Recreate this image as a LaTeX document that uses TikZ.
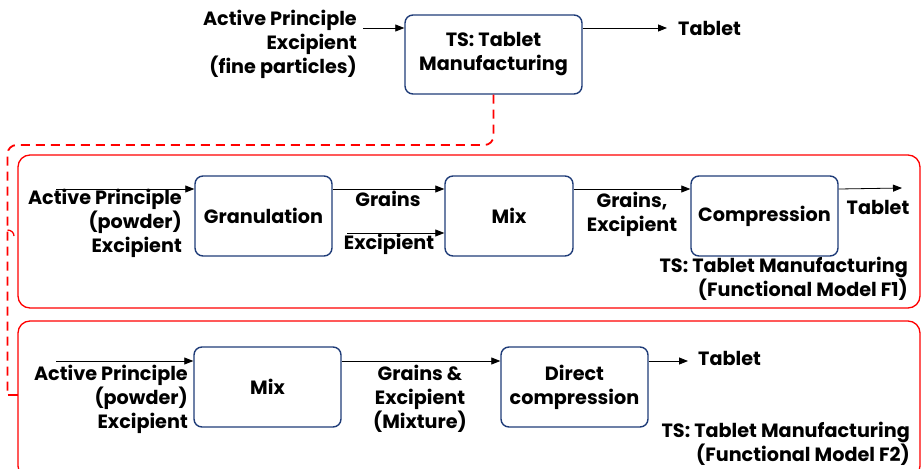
\documentclass[tikz,border=0pt]{standalone}
\usepackage{fontspec}
\setmainfont{Poppins}
\usetikzlibrary{arrows.meta}
\definecolor{navy}{HTML}{1F3C78}
\definecolor{rd}{HTML}{FF0000}
\tikzset{
  proc/.style={draw=navy, line width=1.4pt, rounded corners=8pt, inner sep=0pt, align=center, font=\fontsize{19.2}{24}\selectfont\bfseries},
  arr/.style={-{Triangle[length=9pt,width=7pt]}, line width=0.8pt, black},
  lbl/.style={inner sep=0pt, font=\fontsize{19.2}{24}\selectfont\bfseries},
  frame/.style={draw=rd, line width=1.3pt, rounded corners=12pt},
  brace/.style={draw=rd, line width=1.8pt, dash pattern=on 9pt off 6pt, rounded corners=9pt},
}
\begin{document}
\begin{tikzpicture}[x=1pt,y=-1pt]
\useasboundingbox (0,0) rectangle (922,469);
\clip (0,0) rectangle (922,469);
% frames
\draw[frame] (18,155) rectangle (920,308);
\draw[frame] (18,321) rectangle (920,478);
% boxes
\node[proc, minimum width=177pt, minimum height=79pt] (top) at (493.5,54.5) {TS: Tablet\\Manufacturing};
\node[proc, minimum width=137pt, minimum height=80pt] (gran) at (263.5,216) {Granulation};
\node[proc, minimum width=128pt, minimum height=80pt] (mixa) at (509,216) {Mix};
\node[proc, minimum width=147pt, minimum height=80pt] (comp) at (764.5,216) {Compression};
\node[proc, minimum width=147pt, minimum height=80pt] (mixb) at (267.5,387) {Mix};
\node[proc, minimum width=147pt, minimum height=80pt] (dc) at (574.5,387) {Direct\\compression};
% dashed bracket
\draw[brace] (top.south) -- (493.5,145) -- (7.5,145) -- (7.5,395);
\draw[rd, line width=1.3pt] (7.5,395) -- (18,395);
\draw[rd, line width=1.3pt] (7.5,230) to[out=0,in=90] (14,236);
% top row
\coordinate (tin) at (363,28);
\coordinate (tout) at (667,28);
\draw[arr] (tin) -- (tin -| top.west);
\draw[arr] (tout -| top.east) -- (tout);
\node[lbl, anchor=east, align=right] (tinl) at (357,44) {Active Principle\\Excipient\\(fine particles)};
\node[lbl, anchor=west] (toutl) at (678,28) {Tablet};
% row 1
\coordinate (r1in) at (56,189);
\draw[arr] (r1in) -- (r1in -| gran.west);
\node[lbl, anchor=east, align=right] (r1inl) at (182,223) {Active Principle\\(powder)\\Excipient};
\draw[arr] (gran.east |- r1in) -- (mixa.west |- r1in);
\node[lbl] (grl) at (388,199) {Grains};
\coordinate (exin) at (347,233);
\draw[arr] (exin) -- (exin -| mixa.west);
\node[lbl] (exl) at (389,244) {Excipient};
\draw[arr] (mixa.east |- r1in) -- (comp.west |- r1in);
\node[lbl, align=center] (gel) at (632,214) {Grains,\\Excipient};
\coordinate (r1out) at (902,188);
\draw[arr] (comp.east |- r1in) -- (r1out);
\node[lbl] (tab1) at (878,207) {Tablet};
\node[lbl, anchor=east, align=right] (ts1) at (908,279) {TS: Tablet Manufacturing\\(Functional Model F1)};
% row 2
\coordinate (r2in) at (56,361);
\draw[arr] (r2in) -- (r2in -| mixb.west);
\node[lbl, anchor=east, align=right] (r2inl) at (188,399) {Active Principle\\(powder)\\Excipient};
\draw[arr] (mixb.east |- r2in) -- (dc.west |- r2in);
\node[lbl, align=center] (gmx) at (420,399) {Grains \&\\Excipient\\(Mixture)};
\coordinate (r2out) at (688,361);
\draw[arr] (dc.east |- r2in) -- (r2out);
\node[lbl, anchor=west] (tab2) at (698,358) {Tablet};
\node[lbl, anchor=east, align=right] (ts2) at (910,444) {TS: Tablet Manufacturing\\(Functional Model F2)};
\end{tikzpicture}
\end{document}
